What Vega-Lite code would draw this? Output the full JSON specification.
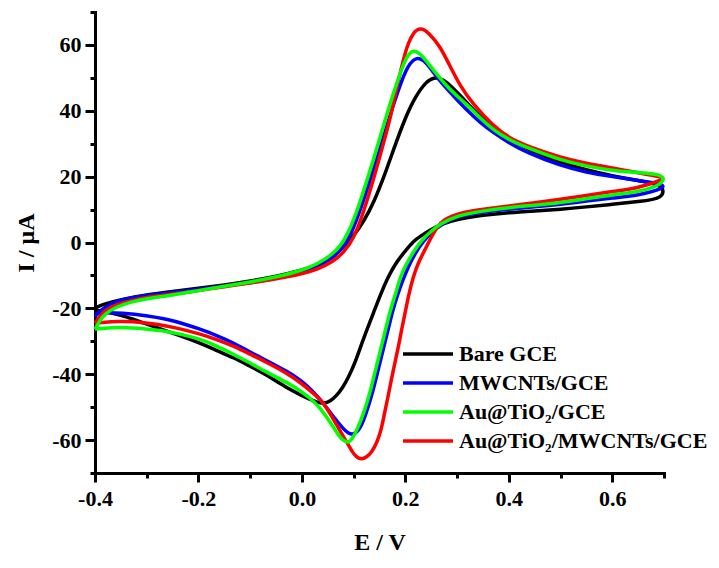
{
  "$schema": "https://vega.github.io/schema/vega-lite/v6.json",
  "width": 569,
  "height": 461,
  "autosize": {"type": "none"},
  "padding": {"left": 95, "top": 12, "right": 55, "bottom": 95},
  "background": "white",
  "config": {"view": {"stroke": null}},
  "data": {"values": [
    {"s":"Bare GCE","E":-0.4,"I":-19.8},{"s":"Bare GCE","E":-0.38,"I":-18.6},{"s":"Bare GCE","E":-0.35,"I":-17.3},{"s":"Bare GCE","E":-0.3,"I":-15.9},{"s":"Bare GCE","E":-0.25,"I":-14.9},{"s":"Bare GCE","E":-0.2,"I":-13.9},{"s":"Bare GCE","E":-0.15,"I":-12.9},{"s":"Bare GCE","E":-0.1,"I":-11.7},{"s":"Bare GCE","E":-0.05,"I":-10.3},{"s":"Bare GCE","E":0.0,"I":-8.5},{"s":"Bare GCE","E":0.03,"I":-6.8},{"s":"Bare GCE","E":0.06,"I":-4.0},{"s":"Bare GCE","E":0.08,"I":-1.5},{"s":"Bare GCE","E":0.1,"I":2.0},{"s":"Bare GCE","E":0.12,"I":6.5},{"s":"Bare GCE","E":0.14,"I":12.5},{"s":"Bare GCE","E":0.16,"I":20.5},{"s":"Bare GCE","E":0.18,"I":29.5},{"s":"Bare GCE","E":0.2,"I":38.0},{"s":"Bare GCE","E":0.22,"I":44.5},{"s":"Bare GCE","E":0.24,"I":48.8},{"s":"Bare GCE","E":0.255,"I":50.2},{"s":"Bare GCE","E":0.27,"I":49.8},{"s":"Bare GCE","E":0.29,"I":47.3},{"s":"Bare GCE","E":0.31,"I":44.0},{"s":"Bare GCE","E":0.33,"I":40.5},{"s":"Bare GCE","E":0.36,"I":36.0},{"s":"Bare GCE","E":0.4,"I":31.3},{"s":"Bare GCE","E":0.45,"I":27.3},{"s":"Bare GCE","E":0.5,"I":24.3},{"s":"Bare GCE","E":0.55,"I":22.0},{"s":"Bare GCE","E":0.6,"I":20.2},{"s":"Bare GCE","E":0.65,"I":18.8},{"s":"Bare GCE","E":0.7,"I":17.6},
    {"s":"Bare GCE","E":0.7,"I":13.3},{"s":"Bare GCE","E":0.65,"I":12.4},{"s":"Bare GCE","E":0.6,"I":11.6},{"s":"Bare GCE","E":0.55,"I":10.8},{"s":"Bare GCE","E":0.5,"I":10.1},{"s":"Bare GCE","E":0.45,"I":9.6},{"s":"Bare GCE","E":0.4,"I":9.1},{"s":"Bare GCE","E":0.35,"I":8.3},{"s":"Bare GCE","E":0.3,"I":7.1},{"s":"Bare GCE","E":0.27,"I":5.6},{"s":"Bare GCE","E":0.25,"I":4.0},{"s":"Bare GCE","E":0.23,"I":2.0},{"s":"Bare GCE","E":0.216,"I":0.5},{"s":"Bare GCE","E":0.2,"I":-2.5},{"s":"Bare GCE","E":0.18,"I":-6.5},{"s":"Bare GCE","E":0.165,"I":-11.0},{"s":"Bare GCE","E":0.151,"I":-16.2},{"s":"Bare GCE","E":0.138,"I":-21.5},{"s":"Bare GCE","E":0.126,"I":-26.3},{"s":"Bare GCE","E":0.115,"I":-31.0},{"s":"Bare GCE","E":0.103,"I":-36.4},{"s":"Bare GCE","E":0.09,"I":-41.0},{"s":"Bare GCE","E":0.078,"I":-44.3},{"s":"Bare GCE","E":0.067,"I":-46.5},{"s":"Bare GCE","E":0.055,"I":-48.2},{"s":"Bare GCE","E":0.042,"I":-48.9},{"s":"Bare GCE","E":0.03,"I":-48.6},{"s":"Bare GCE","E":0.015,"I":-47.6},{"s":"Bare GCE","E":0.0,"I":-46.5},{"s":"Bare GCE","E":-0.025,"I":-44.5},{"s":"Bare GCE","E":-0.05,"I":-42.0},{"s":"Bare GCE","E":-0.08,"I":-39.2},{"s":"Bare GCE","E":-0.1,"I":-37.6},{"s":"Bare GCE","E":-0.133,"I":-34.9},{"s":"Bare GCE","E":-0.165,"I":-32.8},{"s":"Bare GCE","E":-0.2,"I":-30.3},{"s":"Bare GCE","E":-0.25,"I":-27.5},{"s":"Bare GCE","E":-0.3,"I":-24.8},{"s":"Bare GCE","E":-0.34,"I":-22.5},{"s":"Bare GCE","E":-0.37,"I":-21.3},{"s":"Bare GCE","E":-0.4,"I":-20.5},

    {"s":"MWCNTs/GCE","E":-0.4,"I":-22.5},{"s":"MWCNTs/GCE","E":-0.39,"I":-20.6},{"s":"MWCNTs/GCE","E":-0.37,"I":-18.6},{"s":"MWCNTs/GCE","E":-0.35,"I":-17.4},{"s":"MWCNTs/GCE","E":-0.3,"I":-16.0},{"s":"MWCNTs/GCE","E":-0.25,"I":-15.2},{"s":"MWCNTs/GCE","E":-0.2,"I":-14.2},{"s":"MWCNTs/GCE","E":-0.15,"I":-13.2},{"s":"MWCNTs/GCE","E":-0.1,"I":-12.2},{"s":"MWCNTs/GCE","E":-0.05,"I":-10.9},{"s":"MWCNTs/GCE","E":0.0,"I":-9.2},{"s":"MWCNTs/GCE","E":0.03,"I":-7.5},{"s":"MWCNTs/GCE","E":0.06,"I":-4.6},{"s":"MWCNTs/GCE","E":0.08,"I":-1.5},{"s":"MWCNTs/GCE","E":0.092,"I":1.5},{"s":"MWCNTs/GCE","E":0.11,"I":8.5},{"s":"MWCNTs/GCE","E":0.13,"I":18.0},{"s":"MWCNTs/GCE","E":0.15,"I":28.0},{"s":"MWCNTs/GCE","E":0.17,"I":38.5},{"s":"MWCNTs/GCE","E":0.19,"I":48.0},{"s":"MWCNTs/GCE","E":0.205,"I":53.8},{"s":"MWCNTs/GCE","E":0.222,"I":56.6},{"s":"MWCNTs/GCE","E":0.24,"I":54.8},{"s":"MWCNTs/GCE","E":0.254,"I":51.6},{"s":"MWCNTs/GCE","E":0.27,"I":48.5},{"s":"MWCNTs/GCE","E":0.293,"I":44.5},{"s":"MWCNTs/GCE","E":0.32,"I":40.0},{"s":"MWCNTs/GCE","E":0.345,"I":36.4},{"s":"MWCNTs/GCE","E":0.37,"I":33.4},{"s":"MWCNTs/GCE","E":0.4,"I":30.3},{"s":"MWCNTs/GCE","E":0.435,"I":27.3},{"s":"MWCNTs/GCE","E":0.5,"I":23.3},{"s":"MWCNTs/GCE","E":0.55,"I":21.3},{"s":"MWCNTs/GCE","E":0.6,"I":20.0},{"s":"MWCNTs/GCE","E":0.65,"I":18.8},{"s":"MWCNTs/GCE","E":0.7,"I":17.8},
    {"s":"MWCNTs/GCE","E":0.7,"I":16.4},{"s":"MWCNTs/GCE","E":0.65,"I":14.3},{"s":"MWCNTs/GCE","E":0.6,"I":13.5},{"s":"MWCNTs/GCE","E":0.55,"I":12.6},{"s":"MWCNTs/GCE","E":0.5,"I":11.6},{"s":"MWCNTs/GCE","E":0.45,"I":10.8},{"s":"MWCNTs/GCE","E":0.4,"I":10.1},{"s":"MWCNTs/GCE","E":0.35,"I":9.3},{"s":"MWCNTs/GCE","E":0.3,"I":8.0},{"s":"MWCNTs/GCE","E":0.27,"I":5.5},{"s":"MWCNTs/GCE","E":0.25,"I":3.0},{"s":"MWCNTs/GCE","E":0.235,"I":0.5},{"s":"MWCNTs/GCE","E":0.22,"I":-3.0},{"s":"MWCNTs/GCE","E":0.205,"I":-7.5},{"s":"MWCNTs/GCE","E":0.195,"I":-11.5},{"s":"MWCNTs/GCE","E":0.184,"I":-16.2},{"s":"MWCNTs/GCE","E":0.175,"I":-21.0},{"s":"MWCNTs/GCE","E":0.167,"I":-26.3},{"s":"MWCNTs/GCE","E":0.159,"I":-31.3},{"s":"MWCNTs/GCE","E":0.151,"I":-36.4},{"s":"MWCNTs/GCE","E":0.143,"I":-41.5},{"s":"MWCNTs/GCE","E":0.135,"I":-46.5},{"s":"MWCNTs/GCE","E":0.124,"I":-52.0},{"s":"MWCNTs/GCE","E":0.113,"I":-56.6},{"s":"MWCNTs/GCE","E":0.1,"I":-58.4},{"s":"MWCNTs/GCE","E":0.09,"I":-58.0},{"s":"MWCNTs/GCE","E":0.08,"I":-56.6},{"s":"MWCNTs/GCE","E":0.06,"I":-52.8},{"s":"MWCNTs/GCE","E":0.04,"I":-48.5},{"s":"MWCNTs/GCE","E":0.02,"I":-45.0},{"s":"MWCNTs/GCE","E":0.0,"I":-42.0},{"s":"MWCNTs/GCE","E":-0.03,"I":-39.0},{"s":"MWCNTs/GCE","E":-0.068,"I":-35.9},{"s":"MWCNTs/GCE","E":-0.1,"I":-33.3},{"s":"MWCNTs/GCE","E":-0.133,"I":-30.4},{"s":"MWCNTs/GCE","E":-0.165,"I":-28.2},{"s":"MWCNTs/GCE","E":-0.197,"I":-26.3},{"s":"MWCNTs/GCE","E":-0.23,"I":-24.6},{"s":"MWCNTs/GCE","E":-0.261,"I":-23.3},{"s":"MWCNTs/GCE","E":-0.3,"I":-22.2},{"s":"MWCNTs/GCE","E":-0.35,"I":-21.4},{"s":"MWCNTs/GCE","E":-0.38,"I":-21.2},{"s":"MWCNTs/GCE","E":-0.4,"I":-21.8},

    {"s":"Au@TiO₂/MWCNTs/GCE","E":-0.4,"I":-24.5},{"s":"Au@TiO₂/MWCNTs/GCE","E":-0.39,"I":-22.2},{"s":"Au@TiO₂/MWCNTs/GCE","E":-0.38,"I":-20.6},{"s":"Au@TiO₂/MWCNTs/GCE","E":-0.36,"I":-18.9},{"s":"Au@TiO₂/MWCNTs/GCE","E":-0.33,"I":-17.6},{"s":"Au@TiO₂/MWCNTs/GCE","E":-0.3,"I":-16.6},{"s":"Au@TiO₂/MWCNTs/GCE","E":-0.25,"I":-15.7},{"s":"Au@TiO₂/MWCNTs/GCE","E":-0.2,"I":-14.6},{"s":"Au@TiO₂/MWCNTs/GCE","E":-0.15,"I":-13.4},{"s":"Au@TiO₂/MWCNTs/GCE","E":-0.1,"I":-12.3},{"s":"Au@TiO₂/MWCNTs/GCE","E":-0.05,"I":-11.1},{"s":"Au@TiO₂/MWCNTs/GCE","E":0.0,"I":-9.6},{"s":"Au@TiO₂/MWCNTs/GCE","E":0.03,"I":-8.2},{"s":"Au@TiO₂/MWCNTs/GCE","E":0.06,"I":-5.8},{"s":"Au@TiO₂/MWCNTs/GCE","E":0.08,"I":-3.2},{"s":"Au@TiO₂/MWCNTs/GCE","E":0.1,"I":1.0},{"s":"Au@TiO₂/MWCNTs/GCE","E":0.119,"I":9.1},{"s":"Au@TiO₂/MWCNTs/GCE","E":0.14,"I":20.0},{"s":"Au@TiO₂/MWCNTs/GCE","E":0.161,"I":32.0},{"s":"Au@TiO₂/MWCNTs/GCE","E":0.172,"I":38.5},{"s":"Au@TiO₂/MWCNTs/GCE","E":0.183,"I":47.0},{"s":"Au@TiO₂/MWCNTs/GCE","E":0.193,"I":53.5},{"s":"Au@TiO₂/MWCNTs/GCE","E":0.203,"I":59.6},{"s":"Au@TiO₂/MWCNTs/GCE","E":0.215,"I":63.8},{"s":"Au@TiO₂/MWCNTs/GCE","E":0.229,"I":65.3},{"s":"Au@TiO₂/MWCNTs/GCE","E":0.245,"I":63.8},{"s":"Au@TiO₂/MWCNTs/GCE","E":0.267,"I":59.6},{"s":"Au@TiO₂/MWCNTs/GCE","E":0.285,"I":54.0},{"s":"Au@TiO₂/MWCNTs/GCE","E":0.306,"I":47.5},{"s":"Au@TiO₂/MWCNTs/GCE","E":0.331,"I":42.0},{"s":"Au@TiO₂/MWCNTs/GCE","E":0.37,"I":35.4},{"s":"Au@TiO₂/MWCNTs/GCE","E":0.4,"I":31.8},{"s":"Au@TiO₂/MWCNTs/GCE","E":0.435,"I":29.3},{"s":"Au@TiO₂/MWCNTs/GCE","E":0.5,"I":25.8},{"s":"Au@TiO₂/MWCNTs/GCE","E":0.55,"I":24.0},{"s":"Au@TiO₂/MWCNTs/GCE","E":0.6,"I":22.6},{"s":"Au@TiO₂/MWCNTs/GCE","E":0.65,"I":21.2},{"s":"Au@TiO₂/MWCNTs/GCE","E":0.7,"I":19.8},
    {"s":"Au@TiO₂/MWCNTs/GCE","E":0.7,"I":19.2},{"s":"Au@TiO₂/MWCNTs/GCE","E":0.65,"I":16.5},{"s":"Au@TiO₂/MWCNTs/GCE","E":0.6,"I":15.5},{"s":"Au@TiO₂/MWCNTs/GCE","E":0.55,"I":14.3},{"s":"Au@TiO₂/MWCNTs/GCE","E":0.5,"I":13.1},{"s":"Au@TiO₂/MWCNTs/GCE","E":0.45,"I":12.1},{"s":"Au@TiO₂/MWCNTs/GCE","E":0.4,"I":11.1},{"s":"Au@TiO₂/MWCNTs/GCE","E":0.35,"I":10.1},{"s":"Au@TiO₂/MWCNTs/GCE","E":0.306,"I":9.1},{"s":"Au@TiO₂/MWCNTs/GCE","E":0.274,"I":7.1},{"s":"Au@TiO₂/MWCNTs/GCE","E":0.26,"I":4.5},{"s":"Au@TiO₂/MWCNTs/GCE","E":0.248,"I":1.0},{"s":"Au@TiO₂/MWCNTs/GCE","E":0.237,"I":-2.5},{"s":"Au@TiO₂/MWCNTs/GCE","E":0.225,"I":-6.1},{"s":"Au@TiO₂/MWCNTs/GCE","E":0.215,"I":-10.5},{"s":"Au@TiO₂/MWCNTs/GCE","E":0.206,"I":-16.2},{"s":"Au@TiO₂/MWCNTs/GCE","E":0.2,"I":-21.0},{"s":"Au@TiO₂/MWCNTs/GCE","E":0.193,"I":-26.3},{"s":"Au@TiO₂/MWCNTs/GCE","E":0.187,"I":-31.3},{"s":"Au@TiO₂/MWCNTs/GCE","E":0.18,"I":-36.4},{"s":"Au@TiO₂/MWCNTs/GCE","E":0.173,"I":-41.5},{"s":"Au@TiO₂/MWCNTs/GCE","E":0.167,"I":-46.5},{"s":"Au@TiO₂/MWCNTs/GCE","E":0.16,"I":-51.5},{"s":"Au@TiO₂/MWCNTs/GCE","E":0.154,"I":-56.6},{"s":"Au@TiO₂/MWCNTs/GCE","E":0.145,"I":-60.8},{"s":"Au@TiO₂/MWCNTs/GCE","E":0.135,"I":-63.7},{"s":"Au@TiO₂/MWCNTs/GCE","E":0.125,"I":-65.2},{"s":"Au@TiO₂/MWCNTs/GCE","E":0.115,"I":-65.9},{"s":"Au@TiO₂/MWCNTs/GCE","E":0.105,"I":-65.2},{"s":"Au@TiO₂/MWCNTs/GCE","E":0.095,"I":-63.0},{"s":"Au@TiO₂/MWCNTs/GCE","E":0.08,"I":-58.8},{"s":"Au@TiO₂/MWCNTs/GCE","E":0.06,"I":-53.5},{"s":"Au@TiO₂/MWCNTs/GCE","E":0.042,"I":-48.5},{"s":"Au@TiO₂/MWCNTs/GCE","E":0.02,"I":-45.5},{"s":"Au@TiO₂/MWCNTs/GCE","E":-0.003,"I":-42.5},{"s":"Au@TiO₂/MWCNTs/GCE","E":-0.03,"I":-39.6},{"s":"Au@TiO₂/MWCNTs/GCE","E":-0.068,"I":-36.4},{"s":"Au@TiO₂/MWCNTs/GCE","E":-0.1,"I":-33.9},{"s":"Au@TiO₂/MWCNTs/GCE","E":-0.133,"I":-31.4},{"s":"Au@TiO₂/MWCNTs/GCE","E":-0.165,"I":-29.4},{"s":"Au@TiO₂/MWCNTs/GCE","E":-0.197,"I":-27.8},{"s":"Au@TiO₂/MWCNTs/GCE","E":-0.23,"I":-26.4},{"s":"Au@TiO₂/MWCNTs/GCE","E":-0.261,"I":-25.3},{"s":"Au@TiO₂/MWCNTs/GCE","E":-0.3,"I":-24.4},{"s":"Au@TiO₂/MWCNTs/GCE","E":-0.35,"I":-23.8},{"s":"Au@TiO₂/MWCNTs/GCE","E":-0.4,"I":-24.5},

    {"s":"Au@TiO₂/GCE","E":-0.4,"I":-26.3},{"s":"Au@TiO₂/GCE","E":-0.39,"I":-23.5},{"s":"Au@TiO₂/GCE","E":-0.38,"I":-21.6},{"s":"Au@TiO₂/GCE","E":-0.36,"I":-19.6},{"s":"Au@TiO₂/GCE","E":-0.33,"I":-18.0},{"s":"Au@TiO₂/GCE","E":-0.3,"I":-17.0},{"s":"Au@TiO₂/GCE","E":-0.25,"I":-16.0},{"s":"Au@TiO₂/GCE","E":-0.2,"I":-14.6},{"s":"Au@TiO₂/GCE","E":-0.15,"I":-13.3},{"s":"Au@TiO₂/GCE","E":-0.1,"I":-12.0},{"s":"Au@TiO₂/GCE","E":-0.05,"I":-10.5},{"s":"Au@TiO₂/GCE","E":0.0,"I":-8.5},{"s":"Au@TiO₂/GCE","E":0.03,"I":-6.6},{"s":"Au@TiO₂/GCE","E":0.06,"I":-3.5},{"s":"Au@TiO₂/GCE","E":0.075,"I":-0.8},{"s":"Au@TiO₂/GCE","E":0.087,"I":2.0},{"s":"Au@TiO₂/GCE","E":0.106,"I":9.1},{"s":"Au@TiO₂/GCE","E":0.126,"I":19.0},{"s":"Au@TiO₂/GCE","E":0.14,"I":26.0},{"s":"Au@TiO₂/GCE","E":0.155,"I":34.0},{"s":"Au@TiO₂/GCE","E":0.171,"I":42.5},{"s":"Au@TiO₂/GCE","E":0.19,"I":51.5},{"s":"Au@TiO₂/GCE","E":0.203,"I":56.8},{"s":"Au@TiO₂/GCE","E":0.216,"I":58.6},{"s":"Au@TiO₂/GCE","E":0.23,"I":57.2},{"s":"Au@TiO₂/GCE","E":0.248,"I":53.6},{"s":"Au@TiO₂/GCE","E":0.265,"I":50.3},{"s":"Au@TiO₂/GCE","E":0.28,"I":47.5},{"s":"Au@TiO₂/GCE","E":0.3,"I":44.5},{"s":"Au@TiO₂/GCE","E":0.318,"I":42.0},{"s":"Au@TiO₂/GCE","E":0.345,"I":37.8},{"s":"Au@TiO₂/GCE","E":0.37,"I":34.2},{"s":"Au@TiO₂/GCE","E":0.4,"I":31.2},{"s":"Au@TiO₂/GCE","E":0.435,"I":28.8},{"s":"Au@TiO₂/GCE","E":0.5,"I":25.0},{"s":"Au@TiO₂/GCE","E":0.55,"I":23.2},{"s":"Au@TiO₂/GCE","E":0.6,"I":21.8},{"s":"Au@TiO₂/GCE","E":0.65,"I":21.2},{"s":"Au@TiO₂/GCE","E":0.7,"I":20.8},
    {"s":"Au@TiO₂/GCE","E":0.7,"I":17.7},{"s":"Au@TiO₂/GCE","E":0.65,"I":15.3},{"s":"Au@TiO₂/GCE","E":0.6,"I":14.5},{"s":"Au@TiO₂/GCE","E":0.55,"I":13.3},{"s":"Au@TiO₂/GCE","E":0.5,"I":12.1},{"s":"Au@TiO₂/GCE","E":0.45,"I":11.3},{"s":"Au@TiO₂/GCE","E":0.4,"I":10.6},{"s":"Au@TiO₂/GCE","E":0.35,"I":9.6},{"s":"Au@TiO₂/GCE","E":0.3,"I":8.2},{"s":"Au@TiO₂/GCE","E":0.267,"I":5.6},{"s":"Au@TiO₂/GCE","E":0.25,"I":3.5},{"s":"Au@TiO₂/GCE","E":0.23,"I":0.5},{"s":"Au@TiO₂/GCE","E":0.215,"I":-3.0},{"s":"Au@TiO₂/GCE","E":0.2,"I":-7.0},{"s":"Au@TiO₂/GCE","E":0.19,"I":-10.5},{"s":"Au@TiO₂/GCE","E":0.18,"I":-16.2},{"s":"Au@TiO₂/GCE","E":0.17,"I":-21.0},{"s":"Au@TiO₂/GCE","E":0.162,"I":-26.3},{"s":"Au@TiO₂/GCE","E":0.154,"I":-31.3},{"s":"Au@TiO₂/GCE","E":0.146,"I":-36.4},{"s":"Au@TiO₂/GCE","E":0.138,"I":-41.5},{"s":"Au@TiO₂/GCE","E":0.13,"I":-46.5},{"s":"Au@TiO₂/GCE","E":0.12,"I":-51.5},{"s":"Au@TiO₂/GCE","E":0.108,"I":-56.5},{"s":"Au@TiO₂/GCE","E":0.095,"I":-60.3},{"s":"Au@TiO₂/GCE","E":0.088,"I":-60.9},{"s":"Au@TiO₂/GCE","E":0.075,"I":-59.7},{"s":"Au@TiO₂/GCE","E":0.06,"I":-55.8},{"s":"Au@TiO₂/GCE","E":0.035,"I":-50.0},{"s":"Au@TiO₂/GCE","E":0.015,"I":-47.2},{"s":"Au@TiO₂/GCE","E":-0.003,"I":-45.0},{"s":"Au@TiO₂/GCE","E":-0.03,"I":-42.4},{"s":"Au@TiO₂/GCE","E":-0.068,"I":-39.4},{"s":"Au@TiO₂/GCE","E":-0.1,"I":-36.6},{"s":"Au@TiO₂/GCE","E":-0.133,"I":-33.9},{"s":"Au@TiO₂/GCE","E":-0.165,"I":-31.4},{"s":"Au@TiO₂/GCE","E":-0.197,"I":-29.3},{"s":"Au@TiO₂/GCE","E":-0.23,"I":-28.0},{"s":"Au@TiO₂/GCE","E":-0.261,"I":-27.0},{"s":"Au@TiO₂/GCE","E":-0.3,"I":-26.3},{"s":"Au@TiO₂/GCE","E":-0.35,"I":-25.6},{"s":"Au@TiO₂/GCE","E":-0.4,"I":-26.3}
  ]},
  "resolve": {"axis": {"x": "independent", "y": "independent"}},
  "layer": [
    {
      "mark": {"type": "line", "strokeWidth": 3.5, "strokeJoin": "round", "interpolate": "basis"},
      "encoding": {
        "x": {"field": "E", "type": "quantitative",
          "scale": {"domain": [-0.4, 0.7], "nice": false, "zero": false},
          "axis": {"orient": "bottom", "values": [-0.4, -0.2, 0, 0.2, 0.4, 0.6], "format": ".1f",
            "labelExpr": "replace(datum.label, '\u2212', '-')",
            "grid": false, "domainColor": "black", "domainWidth": 3, "domainCap": "square",
            "tickColor": "black", "tickWidth": 3, "tickSize": 9,
            "labelFont": "Liberation Serif", "labelFontWeight": "bold", "labelFontSize": 22, "labelColor": "black", "labelPadding": 6, "labelFlush": false,
            "title": "E / V", "titleFont": "Liberation Serif", "titleFontWeight": "bold", "titleFontSize": 24, "titleColor": "black", "titlePadding": 21}},
        "y": {"field": "I", "type": "quantitative",
          "scale": {"domain": [-70, 70], "nice": false, "zero": false},
          "axis": {"orient": "left", "values": [-60, -40, -20, 0, 20, 40, 60], "format": "d",
            "labelExpr": "replace(datum.label, '\u2212', '-')",
            "grid": false, "domainColor": "black", "domainWidth": 3, "domainCap": "square",
            "tickColor": "black", "tickWidth": 3, "tickSize": 10,
            "labelFont": "Liberation Serif", "labelFontWeight": "bold", "labelFontSize": 22, "labelColor": "black", "labelPadding": 4, "labelFlush": false,
            "title": "I / μA", "titleFont": "Liberation Serif", "titleFontWeight": "bold", "titleFontSize": 24, "titleColor": "black", "titlePadding": 13}},
        "color": {"field": "s", "type": "nominal",
          "scale": {"domain": ["Bare GCE", "MWCNTs/GCE", "Au@TiO₂/GCE", "Au@TiO₂/MWCNTs/GCE"],
                    "range": ["#000000", "#0000FF", "#00FF00", "#FF0000"]},
          "legend": {"orient": "none", "legendX": 306, "legendY": 330, "title": null,
            "symbolType": "stroke", "symbolSize": 2500, "symbolStrokeWidth": 3.5, "clipHeight": 24,
            "labelFont": "Liberation Serif", "labelFontWeight": "bold", "labelFontSize": 22, "labelColor": "black",
            "labelOffset": 4, "labelLimit": 400, "rowPadding": 5}},
        "order": {"value": null}
      }
    },
    {
      "mark": {"type": "point", "opacity": 0},
      "encoding": {
        "x": {"field": "E", "type": "quantitative",
          "axis": {"orient": "bottom", "values": [-0.3, -0.1, 0.1, 0.3, 0.5, 0.7], "labels": false, "domain": false, "grid": false,
            "tickColor": "black", "tickWidth": 3, "tickSize": 5, "title": null}},
        "y": {"field": "I", "type": "quantitative",
          "axis": {"orient": "left", "values": [-70, -50, -30, -10, 10, 30, 50, 70], "labels": false, "domain": false, "grid": false,
            "tickColor": "black", "tickWidth": 3, "tickSize": 5, "title": null}}
      }
    }
  ]
}
